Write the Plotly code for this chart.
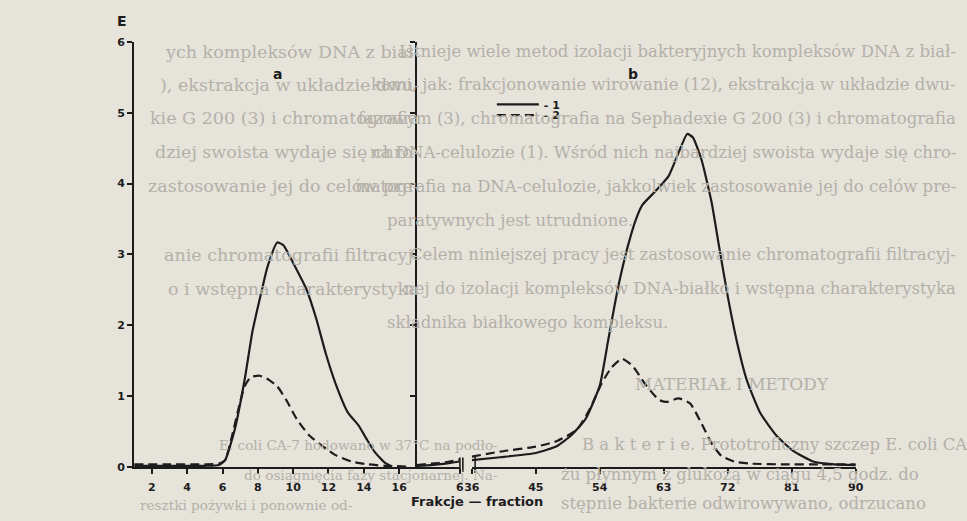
import plotly.graph_objects as go

# ---------------- data ----------------
# panel a : fractions 1-17
frac_a1 = [1, 3, 5, 5.8, 6.15, 6.7, 7.25, 7.7, 8.2, 8.55, 9.1, 9.45, 10.0, 10.75, 11.3, 11.85, 12.4, 13.1, 13.7, 14.15, 14.6, 15.2, 15.6]
e_a1 = [0.02, 0.02, 0.02, 0.03, 0.10, 0.54, 1.23, 1.92, 2.47, 2.83, 3.17, 3.13, 2.88, 2.51, 2.10, 1.60, 1.18, 0.77, 0.59, 0.40, 0.22, 0.06, 0.01]
frac_a2 = [1, 3, 5, 5.8, 6.15, 6.5, 6.9, 7.25, 7.6, 8.1, 8.5, 9.1, 9.65, 10.2, 10.9, 11.7, 12.4, 13.3, 14.25, 15.2, 16.4]
e_a2 = [0.04, 0.04, 0.04, 0.05, 0.10, 0.40, 0.82, 1.14, 1.27, 1.29, 1.25, 1.14, 0.93, 0.68, 0.45, 0.29, 0.17, 0.08, 0.04, 0.02, 0.01]

# panel b : fractions 0-6 (before the axis break)
frac_b_low = [0, 2, 4, 6]
e_b1_low = [0.02, 0.03, 0.05, 0.08]
e_b2_low = [0.03, 0.05, 0.07, 0.11]

# panel b : fractions 36-90 (after the axis break)
frac_b1 = [36, 40, 45, 48, 50, 52, 54, 55.2, 56.5, 57.9, 59.1, 60, 61.8, 63.7, 65.1, 66.3, 67.1, 68.3, 69.7, 70.8, 72, 73.4, 74.7, 76.6, 78.9, 81.2, 84, 87, 90]
e_b1 = [0.10, 0.14, 0.20, 0.30, 0.45, 0.68, 1.15, 1.80, 2.50, 3.10, 3.50, 3.70, 3.89, 4.11, 4.44, 4.70, 4.65, 4.34, 3.75, 3.10, 2.41, 1.72, 1.22, 0.76, 0.44, 0.23, 0.08, 0.04, 0.03]
frac_b2 = [36, 40, 45, 48, 50.8, 52.6, 54.2, 55.6, 57.1, 58.6, 60.4, 62.3, 63.4, 65.1, 66.7, 68.3, 69.7, 71.1, 72.9, 75.2, 80, 85, 90]
e_b2 = [0.15, 0.22, 0.29, 0.37, 0.53, 0.82, 1.17, 1.40, 1.53, 1.43, 1.17, 0.95, 0.92, 0.97, 0.90, 0.62, 0.34, 0.16, 0.08, 0.05, 0.04, 0.04, 0.04]

ticks_a = [2, 4, 6, 8, 10, 12, 14, 16]
ticks_b_low = [6]
ticks_b = [36, 45, 54, 63, 72, 81, 90]
ticks_e = [0, 1, 2, 3, 4, 5, 6]

series_names = ["- 1", "- 2"]

# faint page text showing through the scan (right-hand block)
page_lines = [
    "Istnieje wiele metod izolacji bakteryjnych kompleksów DNA z biał-",
    "kami, jak: frakcjonowanie wirowanie (12), ekstrakcja w układzie dwu-",
    "fazowym (3), chromatografia na Sephadexie G 200 (3) i chromatografia",
    "na DNA-celulozie (1). Wśród nich najbardziej swoista wydaje się chro-",
    "matografia na DNA-celulozie, jakkolwiek zastosowanie jej do celów pre-",
    "paratywnych jest utrudnione.",
    "Celem niniejszej pracy jest zastosowanie chromatografii filtracyj-",
    "nej do izolacji kompleksów DNA-białko i wstępna charakterystyka",
    "składnika białkowego kompleksu.",
]
heading_line = "MATERIAŁ I METODY"
small_lines = [
    "B a k t e r i e. Prototroficzny szczep E. coli CA",
    "żu płynnym z glukozą w ciągu 4,5 godz. do",
    "stępnie bakterie odwirowywano, odrzucano",
]
# second (offset) copy of the same page text, seen inside panel a
ghost_lines = [
    "ych kompleksów DNA z biał-",
    "), ekstrakcja w układzie dwu-",
    "kie G 200 (3) i chromatografia",
    "dziej swoista wydaje się chro-",
    "zastosowanie jej do celów pre-",
    "anie chromatografii filtracyj-",
    "o i wstępna charakterystyka",
]
ghost_small = [
    "E. coli CA-7 hodowano w 37°C na podło-",
    "do osiągnięcia fazy stacjonarnej. Na-",
    "resztki pożywki i ponownie od-",
]

# ---------------- layout helpers (pixel -> paper) ----------------
W, H = 967, 521
def px(x):
    return x / W
def py(y):
    return 1 - y / H

INK = "#1c1c1c"
PAPER = "#e6e3db"
FAINT = "#b4b0a8"
BG_FONT = dict(family="DejaVu Serif", size=16.5, color=FAINT)
GHOST_FONT = dict(family="DejaVu Serif", size=17.5, color=FAINT)
SM_FONT = dict(family="DejaVu Serif", size=16.5, color=FAINT)
GHOST_SM_FONT = dict(family="DejaVu Serif", size=13.6, color=FAINT)
LBL_FONT = dict(family="DejaVu Sans", size=11, color=INK, weight="bold")

Y_TOP, Y_BOT = 36.7, 473.0

fig = go.Figure()

solid = dict(color=INK, width=2.2, shape="spline", smoothing=0.5)
dashed = dict(color=INK, width=2.2, shape="spline", smoothing=0.5, dash="9px,5px")

fig.add_trace(go.Scatter(x=frac_a1, y=e_a1, mode="lines", line=solid, xaxis="x", yaxis="y",
                         name=series_names[0], legend="legend", showlegend=True))
fig.add_trace(go.Scatter(x=frac_a2, y=e_a2, mode="lines", line=dashed, xaxis="x", yaxis="y",
                         name=series_names[1], legend="legend2", showlegend=True))
fig.add_trace(go.Scatter(x=frac_b_low, y=e_b1_low, mode="lines", line=solid, xaxis="x2", yaxis="y2",
                         showlegend=False))
fig.add_trace(go.Scatter(x=frac_b_low, y=e_b2_low, mode="lines", line=dashed, xaxis="x2", yaxis="y2",
                         showlegend=False))
fig.add_trace(go.Scatter(x=frac_b1, y=e_b1, mode="lines", line=solid, xaxis="x3", yaxis="y2",
                         showlegend=False))
fig.add_trace(go.Scatter(x=frac_b2, y=e_b2, mode="lines", line=dashed, xaxis="x3", yaxis="y2",
                         showlegend=False))

axis_common = dict(showgrid=False, zeroline=False, showline=True, linecolor=INK, linewidth=2,
                   ticks="outside", ticklen=5, tickwidth=1.6, tickcolor=INK,
                   tickfont=LBL_FONT, fixedrange=True)
axis_nolabel = {k: v for k, v in axis_common.items() if k != "tickfont"}

fig.update_layout(
    width=W, height=H,
    margin=dict(l=0, r=0, t=0, b=0),
    paper_bgcolor=PAPER, plot_bgcolor="rgba(0,0,0,0)",
    xaxis=dict(domain=[px(128.3), px(415.7)], range=[1, 17], tickvals=ticks_a, anchor="y",
               ticklabelstandoff=4, **axis_common),
    yaxis=dict(domain=[py(Y_BOT), py(Y_TOP)], range=[0, 6], tickvals=ticks_e, anchor="x", **axis_common),
    xaxis2=dict(domain=[px(415.7), px(459.4)], range=[0, 6], tickvals=ticks_b_low, anchor="y2",
                ticklabelstandoff=4, **axis_common),
    yaxis2=dict(domain=[py(Y_BOT), py(Y_TOP)], range=[0, 6], tickvals=ticks_e[1:], anchor="x2",
                showticklabels=False, **axis_nolabel),
    xaxis3=dict(domain=[px(471.6), px(862)], range=[36, 90], tickvals=ticks_b, anchor="y2",
                ticklabelstandoff=4, **axis_common),
    legend=dict(x=px(492), y=py(86), xanchor="left", yanchor="top", bgcolor="rgba(0,0,0,0)",
                font=LBL_FONT, itemwidth=42, borderwidth=0),
    legend2=dict(x=px(492), y=py(97), xanchor="left", yanchor="top", bgcolor="rgba(0,0,0,0)",
                 font=LBL_FONT, itemwidth=42, borderwidth=0),
)

def note(x, y, text, font, xanchor="center", yanchor="middle"):
    return dict(x=px(x), y=py(y), xref="paper", yref="paper", text=text, showarrow=False,
                xanchor=xanchor, yanchor=yanchor, font=font)

annotations = []
page_y = [47, 81, 115, 150, 185, 220, 255, 290, 325]
for i, (line, yy) in enumerate(zip(page_lines, page_y)):
    if i in (5, 8):
        annotations.append(note(383, yy, line, BG_FONT, xanchor="left"))
    else:
        annotations.append(note(966, yy, line, BG_FONT, xanchor="right"))
ghost_y = [47, 81, 115, 150, 185, 255, 290]
for line, yy in zip(ghost_lines, ghost_y):
    annotations.append(note(420, yy, line, GHOST_FONT, xanchor="right"))
annotations.append(note(636, 388, heading_line, dict(family="DejaVu Serif", size=17, color=FAINT),
                        xanchor="left"))
small_y = [450, 481, 510]
for line, yy, x0 in zip(small_lines, small_y, [582, 560, 560]):
    annotations.append(note(x0, yy, line, SM_FONT, xanchor="left"))
for line, yy, x1 in zip(ghost_small, [450, 481, 512], [500, 500, 352]):
    annotations.append(note(x1, yy, line, GHOST_SM_FONT, xanchor="right"))

# chart labels
TITLE_FONT = dict(family="DejaVu Sans", size=14, color=INK, weight="bold")
annotations += [
    note(116, 15, "E", TITLE_FONT),
    note(274, 70, "a", TITLE_FONT),
    note(636, 70, "b", TITLE_FONT),
    note(477, 508, "Frakcje — fraction", dict(family="DejaVu Sans", size=13, color=INK, weight="bold")),
]
fig.update_layout(annotations=annotations)

# axis-break marks
brk = dict(type="line", xref="paper", yref="paper", line=dict(color=INK, width=1.6))
fig.update_layout(shapes=[
    dict(x0=px(459.5), x1=px(459.5), y0=py(478), y1=py(463), **brk),
    dict(x0=px(462.5), x1=px(462.5), y0=py(478), y1=py(463), **brk),
    dict(x0=px(475), x1=px(475), y0=py(479), y1=py(462), **brk),
])

fig.write_html(
    "out.html",
    config={"displayModeBar": False},
    post_script="document.body.style.margin='0px';document.body.style.overflow='hidden';",
)
